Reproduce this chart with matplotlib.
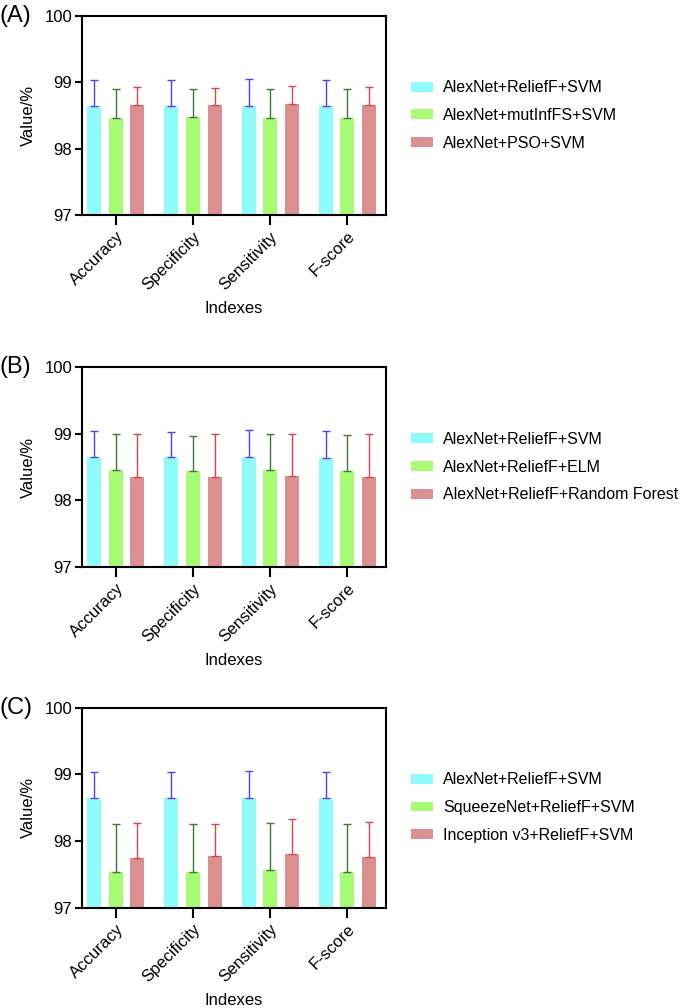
import numpy as np
import matplotlib
matplotlib.use("Agg")
import matplotlib.pyplot as plt

plt.rcParams['font.family'] = ['Liberation Sans', 'DejaVu Sans']

# ---------------------------------------------------------
# Data
# ---------------------------------------------------------
indexes = ["Accuracy", "Specificity", "Sensitivity", "F-score"]

labels_a = ["AlexNet+ReliefF+SVM", "AlexNet+mutInfFS+SVM", "AlexNet+PSO+SVM"]
means_a = [
    [98.65, 98.65, 98.65, 98.65],
    [98.47, 98.48, 98.47, 98.47],
    [98.66, 98.66, 98.67, 98.66],
]
tops_a = [
    [99.04, 99.03, 99.05, 99.04],
    [98.90, 98.90, 98.90, 98.90],
    [98.93, 98.92, 98.95, 98.93],
]

labels_b = ["AlexNet+ReliefF+SVM", "AlexNet+ReliefF+ELM", "AlexNet+ReliefF+Random Forest"]
means_b = [
    [98.65, 98.65, 98.65, 98.64],
    [98.45, 98.44, 98.45, 98.44],
    [98.35, 98.35, 98.36, 98.35],
]
tops_b = [
    [99.04, 99.03, 99.05, 99.04],
    [98.99, 98.97, 98.99, 98.98],
    [99.00, 99.00, 99.00, 99.00],
]

labels_c = ["AlexNet+ReliefF+SVM", "SqueezeNet+ReliefF+SVM", "Inception v3+ReliefF+SVM"]
means_c = [
    [98.64, 98.64, 98.64, 98.64],
    [97.54, 97.54, 97.56, 97.53],
    [97.74, 97.78, 97.80, 97.76],
]
tops_c = [
    [99.04, 99.03, 99.05, 99.04],
    [98.25, 98.25, 98.27, 98.25],
    [98.27, 98.25, 98.33, 98.29],
]

bar_colors = ["#8ffcfc", "#a6fc72", "#dc8f8f"]
err_colors = ["#5a3cf5", "#3d7a2c", "#d9434e"]

# ---------------------------------------------------------
# Figure
# ---------------------------------------------------------
fig = plt.figure(figsize=(6.88, 10.08), dpi=100)

panels = [
    ("(A)", [0.119, 0.7867, 0.442, 0.1974], labels_a, means_a, tops_a),
    ("(B)", [0.119, 0.4375, 0.442, 0.1984], labels_b, means_b, tops_b),
    ("(C)", [0.119, 0.0997, 0.442, 0.1980], labels_c, means_c, tops_c),
]

x = np.arange(len(indexes))
width = 0.18
offset = 0.28

for tag, rect, labels, means, tops in panels:
    ax = fig.add_axes(rect)
    for i in range(3):
        m = np.array(means[i])
        up = np.array(tops[i]) - m
        pos = x + (i - 1) * offset
        ax.bar(pos, m - 97, width, bottom=97, color=bar_colors[i],
               label=labels[i], zorder=2)
        ax.errorbar(pos, m, yerr=[np.zeros_like(up), up], fmt="none",
                    ecolor=err_colors[i], elinewidth=1.0, capsize=3.2,
                    capthick=1.0, zorder=3)

    ax.set_xlim(-0.44, 3.5)
    ax.set_ylim(97, 100)
    ax.set_yticks([97, 98, 99, 100])
    ax.set_xticks(x)
    ax.set_xticklabels(indexes, rotation=45, ha="right", rotation_mode="anchor")
    for s in ax.spines.values():
        s.set_linewidth(1.5)
    ax.tick_params(axis="y", direction="out", length=5, width=1.5,
                   labelsize=12, pad=2)
    ax.tick_params(axis="x", direction="out", length=7, width=1.5,
                   labelsize=12, pad=3)
    ax.set_ylabel("Value/%", fontsize=12, labelpad=6)
    ax.set_xlabel("Indexes", fontsize=12, labelpad=6)

    ax.legend(loc="center left", bbox_to_anchor=(1.035, 0.5), frameon=False,
              fontsize=11.5, handlelength=1.35, handleheight=0.57,
              handletextpad=0.68, labelspacing=0.8)

    ax.text(-0.27, 1.0, tag, transform=ax.transAxes, fontsize=17,
            ha="left", va="center")

fig.savefig("out.png", dpi=100)
